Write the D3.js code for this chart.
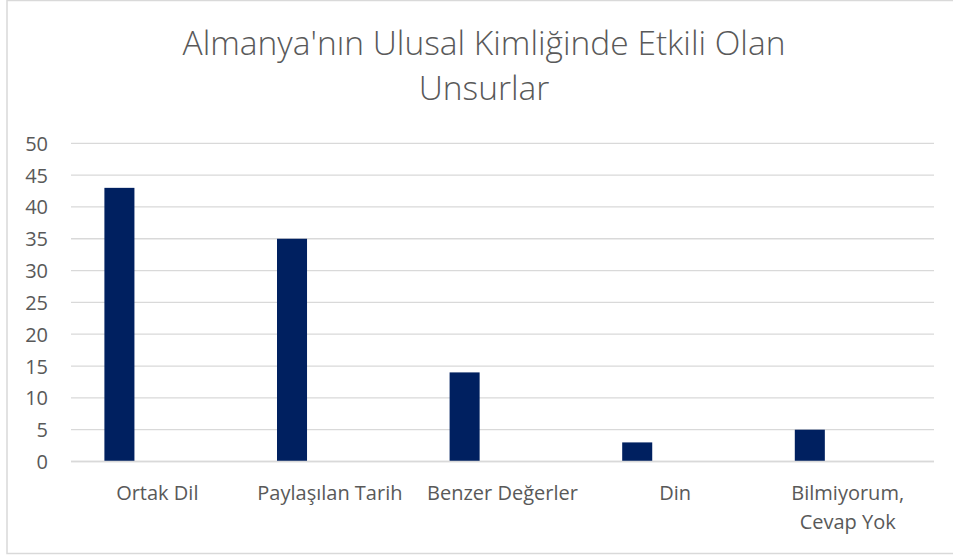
<!DOCTYPE html>
<html>
<head>
<meta charset="utf-8">
<script src="https://cdn.jsdelivr.net/npm/d3@7"></script>
<style>
  html, body { margin: 0; padding: 0; background: #ffffff; }
  svg { display: block; }
</style>
</head>
<body>
<script>
const titleLines = ["Almanya'nın Ulusal Kimliğinde Etkili Olan", "Unsurlar"];
const categories = ["Ortak Dil", "Paylaşılan Tarih", "Benzer Değerler", "Din", "Bilmiyorum, Cevap Yok"];
const categoryLines = [["Ortak Dil"], ["Paylaşılan Tarih"], ["Benzer Değerler"], ["Din"], ["Bilmiyorum,", "Cevap Yok"]];
const values = [43, 35, 14, 3, 5];
const yTicks = [0, 5, 10, 15, 20, 25, 30, 35, 40, 45, 50];

const W = 953, H = 555;
const FONT = "'Open Sans', 'Noto Sans', sans-serif";
const TEXT = "#595959", GRID = "#d9d9d9", BAR = "#002060";

const svg = d3.select("body").append("svg").attr("width", W).attr("height", H);

// chart area border
svg.append("rect")
  .attr("x", 7).attr("y", 0.5).attr("width", 960).attr("height", 553)
  .attr("fill", "#fff").attr("stroke", GRID).attr("stroke-width", 1.5);

// title
const title = svg.append("text")
  .attr("text-anchor", "middle")
  .attr("fill", TEXT)
  .style("font-family", FONT).style("font-weight", 330).style("font-size", "33.5px");
titleLines.forEach((t, i) => {
  title.append("tspan").attr("x", 484).attr("y", 55 + i * 45).text(t);
});

const plot = { left: 71, right: 934, top: 143.3, bottom: 461.5 };

const x = d3.scaleBand().domain(categories).range([plot.left, plot.right]).paddingInner(0).paddingOuter(0);
const y = d3.scaleLinear().domain([0, 50]).range([plot.bottom, plot.top]);

// gridlines
svg.append("g").selectAll("line").data(yTicks).join("line")
  .attr("x1", plot.left).attr("x2", plot.right)
  .attr("y1", d => y(d)).attr("y2", d => y(d))
  .attr("stroke", GRID).attr("stroke-width", 1.3);

// y axis labels
const yAxis = d3.axisLeft(y).tickValues(yTicks).tickSize(0).tickPadding(0);
const gy = svg.append("g").attr("transform", "translate(48,0)").call(yAxis);
gy.select(".domain").remove();
gy.selectAll("text")
  .attr("fill", TEXT)
  .style("font-family", FONT).style("font-size", "20px")
  .attr("dy", "0.35em");

// bars
const bw = x.bandwidth();
svg.append("g").selectAll("rect").data(values).join("rect")
  .attr("x", (d, i) => x(categories[i]) + bw * 0.1935)
  .attr("width", bw * 0.174)
  .attr("y", d => y(d))
  .attr("height", d => y(0) - y(d))
  .attr("fill", BAR);

// x axis baseline
svg.append("line")
  .attr("x1", plot.left).attr("x2", plot.right)
  .attr("y1", y(0)).attr("y2", y(0))
  .attr("stroke", GRID).attr("stroke-width", 1.3);

// category labels
const gx = svg.append("g");
categories.forEach((c, i) => {
  const t = gx.append("text")
    .attr("text-anchor", "middle")
    .attr("fill", TEXT)
    .style("font-family", FONT).style("font-size", "20px");
  categoryLines[i].forEach((line, j) => {
    t.append("tspan").attr("x", x(c) + bw / 2).attr("y", 500 + j * 29).text(line);
  });
});
</script>
</body>
</html>
